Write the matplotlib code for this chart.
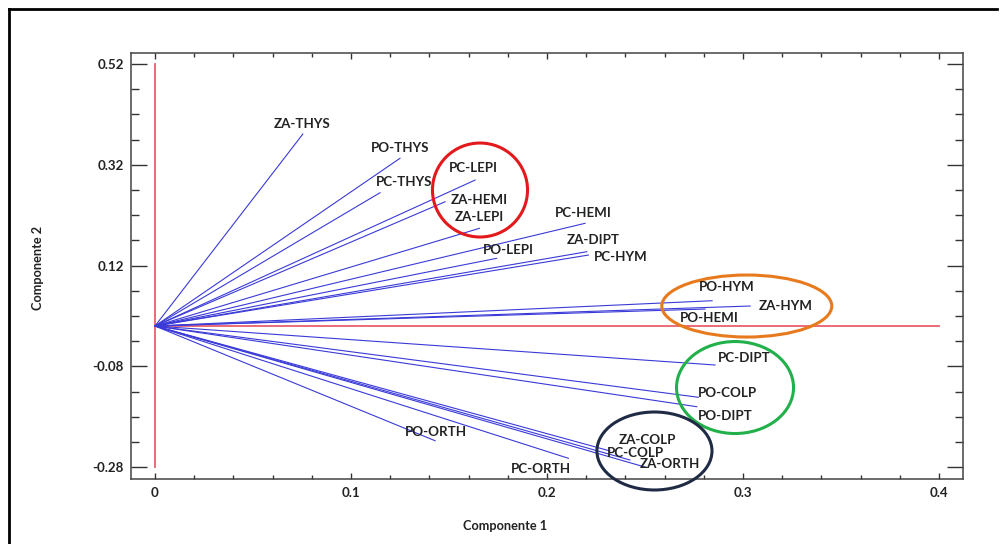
import matplotlib
matplotlib.use("Agg")
import matplotlib.pyplot as plt
from matplotlib.patches import Ellipse
from matplotlib.lines import Line2D
import numpy as np

plt.rcParams['font.family'] = ['Lato', 'DejaVu Sans']

# ---- data ----
labels = ["ZA-THYS", "PO-THYS", "PC-THYS", "PC-LEPI", "ZA-HEMI", "ZA-LEPI",
          "PC-HEMI", "PO-LEPI", "ZA-DIPT", "PC-HYM", "PO-HYM", "ZA-HYM",
          "PO-HEMI", "PC-DIPT", "PO-COLP", "PO-DIPT", "ZA-COLP", "PC-COLP",
          "ZA-ORTH", "PO-ORTH", "PC-ORTH"]
comp1 = [0.0754, 0.1250, 0.1148, 0.1633, 0.1480, 0.1655,
         0.2194, 0.1743, 0.2203, 0.2211, 0.2842, 0.3036,
         0.2806, 0.2857, 0.2772, 0.2764, 0.2321, 0.2423,
         0.2500, 0.1429, 0.2109]
comp2 = [0.381, 0.333, 0.2646, 0.2898, 0.2467, 0.1939,
         0.2039, 0.1344, 0.1475, 0.1409, 0.0502, 0.0397,
         0.0337, -0.0774, -0.1415, -0.1602, -0.248, -0.266,
         -0.280, -0.2277, -0.2626]

# reference axes of the biplot
vaxis_x = [0.0, 0.0]
vaxis_y = [-0.28, 0.52]
haxis_x = [0.0, 0.4]
haxis_y = [0.0, 0.0]

xticks = [0, 0.1, 0.2, 0.3, 0.4]
xticklabels = ["0", "0.1", "0.2", "0.3", "0.4"]
yticks = [-0.28, -0.08, 0.12, 0.32, 0.52]
yticklabels = ["-0.28", "-0.08", "0.12", "0.32", "0.52"]

# label offsets (pixels) from vector tips
label_offsets = {
    "ZA-THYS": (-1, 10), "PO-THYS": (0, 10), "PC-THYS": (24, 11),
    "PC-LEPI": (-2, 12), "ZA-HEMI": (34, 2), "ZA-LEPI": (0, 11),
    "PC-HEMI": (-2, 10), "PO-LEPI": (12, 8), "ZA-DIPT": (6, 12),
    "PC-HYM": (32, -2), "PO-HYM": (15, 14), "ZA-HYM": (36, 0),
    "PO-HEMI": (4, -9), "PC-DIPT": (29, 7), "PO-COLP": (29, 4),
    "PO-DIPT": (28, -9), "ZA-COLP": (37, 11), "PC-COLP": (5, 7),
    "ZA-ORTH": (25, 3), "PO-ORTH": (1, 9), "PC-ORTH": (-27, -11),
}

# highlight ellipses: (center x, center y, width, height, color) in data units
ellipses = [
    (0.1658, 0.2700, 0.0485, 0.1866, "#e3191c"),
    (0.3019, 0.0397, 0.0867, 0.1231, "#e87a1e"),
    (0.2959, -0.1221, 0.0597, 0.1826, "#22b04b"),
    (0.2548, -0.2481, 0.0587, 0.1548, "#1f2b45"),
]

FS = 9.6

fig = plt.figure(figsize=(10.04, 5.44), dpi=100)
ax = fig.add_axes([131/1004, 65/544, 832/1004, 426/544])

ax.plot(vaxis_x, vaxis_y, color="#e8606c", lw=1.3, zorder=1)
ax.plot(haxis_x, haxis_y, color="#e8606c", lw=1.3, zorder=1)

for lab, x, y in zip(labels, comp1, comp2):
    ax.plot([0, x], [0, y], color="#3a3ad8", lw=0.8, zorder=2)
    dx, dy = label_offsets[lab]
    ax.annotate(lab, (x, y), xytext=(dx, dy), textcoords="offset pixels",
                ha="center", va="center", fontsize=FS, fontweight="bold",
                color="#222222", zorder=4)

for cx, cy, w, h, c in ellipses:
    e = Ellipse((cx, cy), w, h, fill=False, edgecolor=c, lw=2.2,
                clip_on=False, zorder=3)
    ax.add_patch(e)

ax.set_xlim(-0.01224, 0.4122)
ax.set_ylim(-0.3037, 0.542)
ax.set_xticks(xticks)
ax.set_xticklabels(xticklabels)
ax.set_yticks(yticks)
ax.set_yticklabels(yticklabels)
ax.set_xticks(np.arange(-0.0, 0.41, 0.02), minor=True)
ax.set_yticks([0.47, 0.42, 0.37, 0.27, 0.22, 0.17, 0.07, 0.02, -0.03,
               -0.13, -0.18, -0.23], minor=True)

ax.tick_params(axis="y", which="major", direction="in", length=11.5,
               width=1.0, left=True, right=True, pad=5, labelsize=FS,
               color="#333333")
ax.tick_params(axis="y", which="minor", direction="in", length=5.5,
               width=1.0, left=True, right=True, color="#333333")
ax.tick_params(axis="x", which="major", direction="in", length=4,
               width=1.0, top=True, bottom=True, pad=6, labelsize=FS,
               color="#333333")
ax.tick_params(axis="x", which="minor", direction="in", length=3,
               width=1.0, top=True, bottom=True, color="#333333")
for lbl in ax.get_xticklabels() + ax.get_yticklabels():
    lbl.set_fontweight("bold")
    lbl.set_color("#222222")
for s in ax.spines.values():
    s.set_color("#444444")
    s.set_linewidth(1.1)

fig.text(505/1004, 1 - 526/544, "Componente 1", ha="center", va="center",
         fontsize=9.2, fontweight="bold", color="#222222")
fig.text(38/1004, 1 - 268/544, "Componente 2", ha="center", va="center",
         rotation=90, fontsize=9.2, fontweight="bold", color="#222222")

# outer frame
fig.add_artist(Line2D([9/1004, 9/1004], [0, 1 - 9/544], color="black", lw=2))
fig.add_artist(Line2D([9/1004, 997/1004], [1 - 9/544, 1 - 9/544], color="black", lw=2))

fig.savefig("out.png", dpi=100)
